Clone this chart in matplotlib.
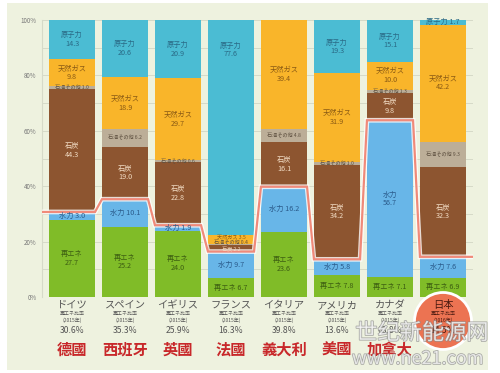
import matplotlib
matplotlib.use("Agg")
import matplotlib.pyplot as plt
import matplotlib.patheffects as pe
from matplotlib.patches import Rectangle, Circle
import numpy as np

plt.rcParams['font.family'] = ['Noto Sans CJK JP', 'DejaVu Sans']

# -- Data ----------------------------------------------------------------------
names_jp = ["ドイツ", "スペイン", "イギリス", "フランス", "イタリア", "アメリカ", "カナダ", "日本"]
names_zh = ["德國", "西班牙", "英國", "法國", "義大利", "美國", "加拿大", ""]
re_ratio = ["30.6%", "35.3%", "25.9%", "16.3%", "39.8%", "13.6%", "63.8%", "14.5%"]
years    = ["(2015年)"] * 7 + ["(2016年)"]

renew   = [27.7, 25.2, 24.0, 6.7, 23.6, 7.8, 7.1, 6.9]
hydro   = [3.0, 10.1, 1.9, 9.7, 16.2, 5.8, 56.7, 7.6]
coal    = [44.3, 19.0, 22.8, 2.2, 16.1, 34.2, 9.8, 32.3]
oil     = [1.0, 6.2, 0.6, 0.4, 4.8, 1.0, 1.3, 9.3]
gas     = [9.8, 18.9, 29.7, 3.5, 39.4, 31.9, 10.0, 42.2]
nuclear = [14.3, 20.6, 20.9, 77.6, 0.0, 19.3, 15.1, 1.7]

# -- Style ---------------------------------------------------------------------
SERIES = [
    # name, values, fill, text colour, two-line threshold
    ("再エネ",     renew,   "#80bc28", "#3d5e12", 15),
    ("水力",       hydro,   "#68b6e8", "#2a5a8a", 30),
    ("石炭",       coal,    "#8d5530", "#f2dcc4", 5),
    ("石油その他", oil,     "#bcae98", "#5e5040", 999),
    ("天然ガス",   gas,     "#f9b52a", "#8a5a14", 5),
    ("原子力",     nuclear, "#4bbcd3", "#2a6a86", 5),
]
# France's thin fossil bands carry labels spread apart as in the source
LABEL_Y = {(3, "石炭"): 17.2, (3, "石油その他"): 19.5, (3, "天然ガス"): 21.7}

BG = "#eef2df"
LINE = "#f08a7a"
RED = "#c8282a"

fig = plt.figure(figsize=(5, 3.73), dpi=100)
fig.patch.set_facecolor("white")
fig.add_artist(Rectangle((7 / 500, 3 / 373), 481 / 500, 367 / 373,
                         transform=fig.transFigure, facecolor=BG,
                         edgecolor="none", zorder=0))

ax = fig.add_axes([42 / 500, 76 / 373, 431 / 500, 277 / 373])
ax.set_facecolor("none")
x = np.arange(len(names_jp))
w = 0.87
ax.set_xlim(-0.566, 7.566)
ax.set_ylim(0, 100)

bottom = np.zeros(len(x))
for name, vals, col, tcol, thr in SERIES:
    vals = np.array(vals)
    ax.bar(x, vals, w, bottom=bottom, color=col, edgecolor="none", zorder=2)
    for i, v in enumerate(vals):
        if v <= 0:
            continue
        top = bottom[i] + v
        y = bottom[i] + v / 2
        if v > 60:
            y = top - 11
        y = LABEL_Y.get((i, name), y)
        txt = f"{name}\n{v:.1f}" if v >= thr else f"{name} {v:.1f}"
        fs = 3.7 if name == "石油その他" or (i == 3 and v < 5) else 5.2
        ax.text(i, y, txt, ha="center", va="center", fontsize=fs,
                color=tcol, linespacing=1.1, zorder=4)
    bottom += vals

# red line tracing renewables + hydro
level = np.array(renew) + np.array(hydro)
xs = [ax.get_xlim()[0]]
ys = [level[0]]
for i, lv in enumerate(level):
    xs += [i - w / 2, i + w / 2]
    ys += [lv, lv]
xs.append(ax.get_xlim()[1])
ys.append(level[-1])
ax.plot(xs, ys, color=LINE, lw=1.6, zorder=3, solid_joinstyle="miter",
        path_effects=[pe.Stroke(linewidth=3.4, foreground="white", alpha=0.8), pe.Normal()])

# axes cosmetics
ax.set_yticks(range(0, 101, 20))
ax.set_yticklabels([f"{t}%" for t in range(0, 101, 20)], fontsize=4.5, color="#777777")
ax.set_yticks(range(0, 101, 10), minor=True)
ax.grid(True, axis="y", which="both", color="#d6dac8", lw=0.7, zorder=0)
ax.set_axisbelow(True)
ax.tick_params(axis="both", which="both", length=0, pad=4)
ax.set_xticks([])
for s in ["top", "right", "bottom"]:
    ax.spines[s].set_visible(False)
ax.spines["left"].set_color("#d6dac8")


def py(p):
    # pixel row -> data y
    return (297 - p) / 2.77


# Japan circle (inside the axes so its text sits on top)
ax.add_patch(Circle((4.43, (373 - 321) / 100), 0.285, transform=fig.dpi_scale_trans,
                    facecolor="#ec7352", edgecolor="white", lw=2.0, zorder=5,
                    clip_on=False))

for i in x:
    tc = "#4a1a10" if i == 7 else "#555555"
    ax.text(i, py(305), names_jp[i], ha="center", va="center", fontsize=7.4,
            color=tc, clip_on=False, zorder=6)
    ax.text(i, py(313.5), "再エネ比率", ha="center", va="center", fontsize=3.6,
            color=tc, clip_on=False, zorder=6)
    ax.text(i, py(320.5), years[i], ha="center", va="center", fontsize=3.6,
            color=tc, clip_on=False, zorder=6)
    ax.text(i, py(330.5), re_ratio[i], ha="center", va="center", fontsize=6.2,
            color=tc, clip_on=False, zorder=6)
    if names_zh[i]:
        ax.text(i, py(350), names_zh[i], ha="center", va="center", fontsize=11,
                fontweight="bold", color=RED, family=["Noto Sans CJK TC", "DejaVu Sans"],
                clip_on=False, zorder=6)

# watermark
wm = [pe.Stroke(linewidth=1.1, foreground="#8a8a8a", alpha=0.7), pe.Normal()]
fig.text(422 / 500, (373 - 333) / 373, "世纪新能源网", ha="center", va="center",
         fontsize=16, color="white", alpha=0.7, family=["Noto Sans CJK SC", "DejaVu Sans"],
         path_effects=wm, zorder=7)
fig.text(418 / 500, (373 - 359) / 373, "www.ne21.com", ha="center", va="center",
         fontsize=13, color="white", alpha=0.7, path_effects=wm, zorder=7)

fig.savefig("out.png", dpi=100, facecolor=fig.get_facecolor())
